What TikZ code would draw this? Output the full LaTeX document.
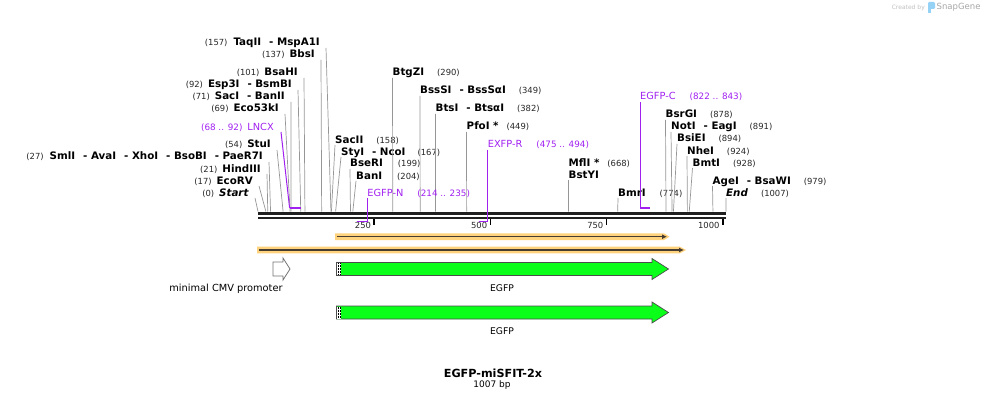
\documentclass[tikz,border=0pt]{standalone}
\usepackage{fontspec}
\setmainfont{DejaVu Sans}
\usepackage{tikz}
\usetikzlibrary{arrows.meta,positioning,calc}
\definecolor{primer}{RGB}{160,32,240}
\definecolor{leadergray}{RGB}{150,150,150}
\definecolor{egfpgreen}{RGB}{10,255,25}
\definecolor{orfband}{RGB}{255,210,125}
\definecolor{orfline}{RGB}{70,60,50}
\definecolor{logoblue}{RGB}{150,210,245}
\newcommand{\bpx}{0.4647}
\newcommand{\pos}[1]{{\fontsize{8.4}{9}\selectfont\mdseries\color{black!85}(#1)}}
\newcommand{\ppos}[1]{{\fontsize{8.8}{9}\selectfont(#1)}}
\newcommand{\sep}{\hspace{8pt}- }
\tikzset{
  enz/.style={font=\fontsize{10.3}{12}\selectfont\bfseries, inner sep=0pt},
  enz left/.style={enz, anchor=base east},
  enz right/.style={enz, anchor=base west},
  leader/.style={draw=leadergray, line width=0.7pt},
  primer lbl/.style={font=\fontsize{9.8}{11}\selectfont, text=primer, inner sep=0pt},
  primer bar/.style={draw=primer, line width=1.8pt},
  primer leader/.style={draw=primer, line width=1pt},
  tick lbl/.style={font=\fontsize{8.4}{9}\selectfont, text=black!85, inner sep=0pt, anchor=base east},
  feat lbl/.style={font=\fontsize{9.2}{10}\selectfont, inner sep=0pt},
  egfp arrow/.style={draw=black!70, fill=egfpgreen, line width=0.7pt}
}

\begin{document}
\begin{tikzpicture}[x=1pt, y=-1pt]
  \useasboundingbox (0,0) rectangle (985,401);

  % backbone and scale
  \draw[line width=3pt, black!88] (258,213.8) -- (726,213.8);
  \draw[line width=2pt, black!88] (258,217.7) -- (726,217.7);
  \foreach \t in {250,500,750,1000}{
    \draw[line width=1.6pt] ({258+\t*\bpx},218.5) -- ({258+\t*\bpx},225);
    \node[tick lbl] (tick_\t) at ({255+\t*\bpx},228) {\t};
  }

  % enzymes, labels on the left
  \node[enz left] (start)  at (249,196) {\pos{0}\hspace{5pt}\textit{Start}};
  \node[enz left] (ecorv)  at (253,184) {\pos{17}\hspace{5pt}EcoRV};
  \node[enz left] (hind)   at (261,172) {\pos{21}\hspace{5pt}HindIII};
  \node[enz left] (sml)    at (263,160) {\pos{27}\hspace{6pt}SmlI\sep AvaI\sep XhoI\sep BsoBI\sep PaeR7I};
  \node[enz left] (stu)    at (271,148) {\pos{54}\hspace{5pt}StuI};
  \node[enz left] (eco53)  at (279,112) {\pos{69}\hspace{5pt}Eco53kI};
  \node[enz left] (sac)    at (285,100) {\pos{71}\hspace{5pt}SacI\sep BanII};
  \node[enz left] (esp)    at (292,88)  {\pos{92}\hspace{5pt}Esp3I\sep BsmBI};
  \node[enz left] (bsah)   at (298,76)  {\pos{101}\hspace{5pt}BsaHI};
  \node[enz left] (bbs)    at (315,58)  {\pos{137}\hspace{5pt}BbsI};
  \node[enz left] (taq)    at (320,46)  {\pos{157}\hspace{6pt}TaqII\sep MspA1I};
  \foreach \e/\b in {start/0, ecorv/17, hind/21, sml/27, stu/54, eco53/69,
                     sac/71, esp/92, bsah/101, bbs/137, taq/157}{
    \coordinate (\e_s) at ({258+\b*\bpx},211.5);
    \draw[leader] ($(\e.base east)+(6,2)$) -- (\e_s);
  }

  % enzymes, labels on the right
  \node[enz right] (sac2)  at (335,143)   {SacII\hspace{13pt}\pos{158}};
  \node[enz right] (sty)   at (341,155)   {StyI\sep NcoI\hspace{12pt}\pos{167}};
  \node[enz right] (bser)  at (350,167)   {BseRI\hspace{15pt}\pos{199}};
  \node[enz right] (ban)   at (356,179)   {BanI\hspace{15pt}\pos{204}};
  \node[enz right] (btgz)  at (392.5,76)  {BtgZI\hspace{13pt}\pos{290}};
  \node[enz right] (bsss)  at (420,94)    {BssSI\sep BssSαI\hspace{13pt}\pos{349}};
  \node[enz right] (bts)   at (435.5,112) {BtsI\sep BtsαI\hspace{13pt}\pos{382}};
  \node[enz right] (pfo)   at (466.5,130) {PfoI *\hspace{8pt}\pos{449}};
  \node[enz right] (mfl)   at (568.5,166) {MflI *\hspace{8pt}\pos{668}};
  \node[enz right] (bsty)  at (568.5,178) {BstYI};
  \node[enz right] (bmr)   at (618,196)   {BmrI\hspace{14pt}\pos{774}};
  \node[enz right] (bsrg)  at (665.5,118) {BsrGI\hspace{13pt}\pos{878}};
  \node[enz right] (noti)  at (671,130)   {NotI\sep EagI\hspace{13pt}\pos{891}};
  \node[enz right] (bsie)  at (677,142)   {BsiEI\hspace{13pt}\pos{894}};
  \node[enz right] (nhe)   at (687,154)   {NheI\hspace{13pt}\pos{924}};
  \node[enz right] (bmt)   at (692.5,166) {BmtI\hspace{13pt}\pos{928}};
  \node[enz right] (age)   at (712.5,184) {AgeI\sep BsaWI\hspace{13pt}\pos{979}};
  \node[enz right] (end)   at (726,196)   {\textit{End}\hspace{13pt}\pos{1007}};
  \foreach \e/\b in {sac2/158, sty/167, bser/199, ban/204, btgz/290, bsss/349,
                     bts/382, pfo/449, bsty/668, bmr/774, bsrg/878, noti/891,
                     bsie/894, nhe/924, bmt/928, age/979, end/1007}{
    \coordinate (\e_s) at ({258+\b*\bpx},211.5);
    \draw[leader] ($(\e.base west)+(0,2)$) -- (\e_s);
  }

  % primers
  \node[primer lbl, anchor=base east] (lncx)  at (274,131)   {\ppos{68 .. 92}\hspace{5pt}LNCX};
  \node[primer lbl, anchor=base west] (egfpn) at (367.2,196) {EGFP-N\hspace{14pt}\ppos{214 .. 235}};
  \node[primer lbl, anchor=base west] (exfpr) at (487.6,148) {EXFP-R\hspace{14pt}\ppos{475 .. 494}};
  \node[primer lbl, anchor=base west] (egfpc) at (640,100)   {EGFP-C\hspace{14pt}\ppos{822 .. 843}};
  \coordinate (lncx_a)  at (289.6,208);   \coordinate (lncx_b)  at (300.7,208);
  \coordinate (egfpn_a) at (367.2,221.5); \coordinate (egfpn_b) at (357.4,221.5);
  \coordinate (exfpr_a) at (487.6,221.5); \coordinate (exfpr_b) at (478.7,221.5);
  \coordinate (egfpc_a) at (640,208);     \coordinate (egfpc_b) at (649.7,208);
  \draw[primer leader] ($(lncx.base east)+(7,1)$) -- (lncx_a);
  \foreach \p in {egfpn, exfpr, egfpc}
    \draw[primer leader] ($(\p.base west)+(0,2)$) -- (\p_a);
  \foreach \p in {lncx, egfpn, exfpr, egfpc}
    \draw[primer bar] (\p_a) -- (\p_b);

  % open reading frames
  \fill[orfband] (335,233.3) -- (664,233.3) -- (669.5,236.7) -- (664,240) -- (335,240) -- cycle;
  \draw[orfline, line width=1.5pt, -{Latex[length=5pt,width=5pt]}] (337,236.7) -- (667,236.7);
  \fill[orfband] (257,246.7) -- (680,246.7) -- (686,250) -- (680,253.3) -- (257,253.3) -- cycle;
  \draw[orfline, line width=1.5pt, -{Latex[length=5pt,width=5pt]}] (259,250) -- (684,250);

  % features
  \draw[draw=black!55, fill=white, line width=0.8pt]
    (273,262) -- (283,262) -- (283,258) -- (290,269) -- (283,280) -- (283,276) -- (273,276) -- cycle;
  \node[feat lbl, font=\fontsize{9.8}{10}\selectfont] (cmv_lbl) at (226,289) {minimal CMV promoter};
  \foreach \dy/\n in {0/1, 43.5/2}{
    \draw[egfp arrow] (336.5,262.5+\dy) -- (652,262.5+\dy) -- (652,258.5+\dy) -- (668.5,269+\dy)
      -- (652,279.5+\dy) -- (652,275.5+\dy) -- (336.5,275.5+\dy) -- cycle;
    \fill[white] (337,263+\dy) rectangle (341,275+\dy);
    \draw[densely dotted, line width=0.5pt] (338.2,263+\dy) -- (338.2,275+\dy)
                                              (340.2,263+\dy) -- (340.2,275+\dy);
    \node[feat lbl] (egfp_lbl\n) at (502,288+\dy) {EGFP};
  }

  % title
  \node[font=\fontsize{11.2}{12}\selectfont\bfseries, inner sep=0pt] (title) at (493,373) {EGFP-miSFIT-2x};
  \node[font=\fontsize{9}{10}\selectfont, inner sep=0pt] (length) at (492,385) {1007 bp};

  % credit
  \node[font=\fontsize{6}{7}\selectfont, text=black!25, anchor=east, inner sep=0pt] (credit) at (925,7.5) {Created by};
  \fill[logoblue, rounded corners=1.2pt] (928,2) rectangle (935,9);
  \fill[logoblue] (928,7) rectangle (931.2,13.5);
  \node[font=\fontsize{8.5}{10}\selectfont, text=black!35, anchor=west, inner sep=0pt] (snapgene) at (936.5,7.5) {SnapGene};
\end{tikzpicture}
\end{document}
